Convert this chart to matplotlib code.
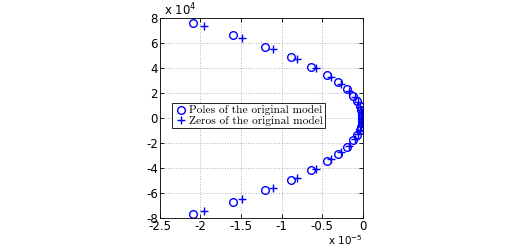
import matplotlib.pyplot as plt
import numpy as np
from matplotlib.ticker import FuncFormatter

# poles / zeros (upper half, conjugates mirrored below)
pole_re = np.array([-2.09, -1.60, -1.21, -0.887, -0.64, -0.44, -0.30, -0.20, -0.12, -0.07,
                    -0.04, -0.025, -0.015, -0.008, -0.005]) * 1e-5
pole_im = np.array([7.64, 6.69, 5.73, 4.94, 4.14, 3.42, 2.87, 2.31, 1.75, 1.35,
                    0.96, 0.68, 0.42, 0.22, 0.06]) * 1e4
zero_re = np.array([-1.96, -1.49, -1.11, -0.81, -0.58, -0.39, -0.27, -0.17, -0.10, -0.06,
                    -0.035, -0.02, -0.012, -0.007, -0.004]) * 1e-5
zero_im = np.array([7.40, 6.45, 5.57, 4.78, 4.06, 3.26, 2.70, 2.20, 1.68, 1.30,
                    0.92, 0.64, 0.40, 0.20, 0.05]) * 1e4

plt.rcParams.update({'font.size': 8.5, 'font.family': 'DejaVu Sans',
                     'xtick.direction': 'in', 'ytick.direction': 'in',
                     'xtick.top': True, 'ytick.right': True})

fig = plt.figure(figsize=(5.06, 2.48), dpi=100)
ax = fig.add_axes([0.316, 0.121, 0.401, 0.805])

ax.plot(np.r_[pole_re, pole_re], np.r_[pole_im, -pole_im], 'o', mfc='none', mec='b',
        ms=5.5, mew=1.0, label='Poles of the original model')
ax.plot(np.r_[zero_re, zero_re], np.r_[zero_im, -zero_im], '+', color='b',
        ms=6, mew=1.0, label='Zeros of the original model')

ax.set_xlim(-2.5e-5, 0)
ax.set_ylim(-8e4, 8e4)
ax.set_xticks(np.arange(-2.5, 0.01, 0.5) * 1e-5)
ax.set_yticks(np.arange(-8, 8.1, 2) * 1e4)
ax.xaxis.set_major_formatter(FuncFormatter(lambda v, p: f'{v*1e5:g}'))
ax.yaxis.set_major_formatter(FuncFormatter(lambda v, p: f'{v/1e4:g}'))
ax.grid(True, ls=':', color='#b0b0b0', lw=0.7)
ax.tick_params(length=3, width=0.6, pad=1.5)
for s in ax.spines.values():
    s.set_linewidth(0.6)

ax.text(0.02, 1.0, r'x 10$^4$', transform=ax.transAxes, ha='left', va='bottom', fontsize=8.5)
ax.text(1.0, -0.075, r'x 10$^{-5}$', transform=ax.transAxes, ha='right', va='top', fontsize=7.5)

leg = ax.legend(loc='upper left', bbox_to_anchor=(0.06, 0.575), borderaxespad=0,
                fancybox=False, edgecolor='k', framealpha=1,
                prop={'family': 'cmr10', 'size': 8.2}, handletextpad=0.2,
                handlelength=1.1, borderpad=0.2, labelspacing=0.05)
leg.get_frame().set_linewidth(0.6)

plt.savefig('out.png', dpi=100)
